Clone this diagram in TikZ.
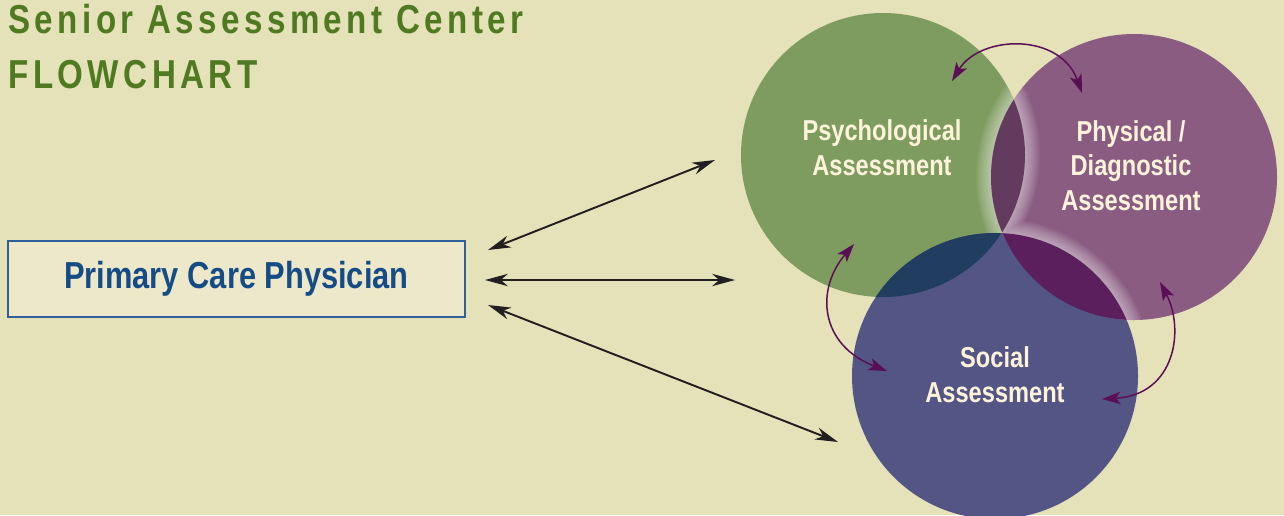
\documentclass[tikz,border=0pt]{standalone}
\usepackage{fontspec}
\setmainfont{Liberation Sans}[FakeStretch=0.82]
\newfontfamily\headfont{Liberation Sans}[FakeStretch=0.82, LetterSpace=11]
\usepackage{tikz}
\usetikzlibrary{arrows.meta}

\definecolor{bg}{HTML}{E5E1B8}
\definecolor{boxfill}{HTML}{EDE8CA}
\definecolor{boxblue}{HTML}{2C6096}
\definecolor{pcpblue}{HTML}{154C85}
\definecolor{headgreen}{HTML}{4F7A22}
\definecolor{psygreen}{HTML}{7E9C5F}
\definecolor{phypurple}{HTML}{8A5C82}
\definecolor{socblue}{HTML}{535684}
\definecolor{psyphy}{HTML}{623B5E}
\definecolor{psysoc}{HTML}{213D5F}
\definecolor{physoc}{HTML}{5C1F5E}
\definecolor{allthree}{HTML}{2E1F45}
\definecolor{cream}{HTML}{FDF3DB}
\definecolor{linkblack}{HTML}{231F20}
\definecolor{looppurple}{HTML}{5A0E55}

\begin{document}
\begin{tikzpicture}[x = 0.02cm, y = -0.02cm,
  headline/.style = {anchor = base west, inner sep = 0pt, text = headgreen, font = \headfont\bfseries\fontsize{23}{28}\selectfont},
  circlabel/.style = {text = cream, align = center, font = \bfseries\fontsize{16.4}{19.8}\selectfont},
  pcpbox/.style = {draw = boxblue, fill = boxfill, line width = 0.7pt, minimum width = 9.14cm, minimum height = 1.52cm, text = pcpblue, font = \bfseries\fontsize{21.4}{26}\selectfont},
  link/.style = {{Stealth[length=13pt,width=7pt,inset=4pt]}-{Stealth[length=13pt,width=7pt,inset=4pt]}, line width = 1.1pt, draw = linkblack},
  purplelink/.style = {{Stealth[length=10.5pt,width=7pt,inset=2.5pt]}-{Stealth[length=10.5pt,width=7pt,inset=2.5pt]}, line width = 0.85pt, draw = looppurple},
  glow/.style = {white, opacity = 0.055}]
\useasboundingbox (0,0) rectangle (1284,515);
\clip (0,0) rectangle (1284,515);
\fill[bg] (0,0) rectangle (1284,515);

\coordinate (psy) at (883,155);
\coordinate (phy) at (1134,177);
\coordinate (soc) at (995,376);

\fill[psygreen] (psy) circle (142);
\fill[phypurple] (phy) circle (143);
\fill[socblue] (soc) circle (143);

\begin{scope}
\clip (phy) circle (143);
\foreach \i in {1,...,10}
  \draw[glow, line width = \i*1.7pt] (psy) circle (142) (soc) circle (143);
\end{scope}
\begin{scope}
\clip (psy) circle (142);
\foreach \i in {1,...,10}
  \draw[glow, line width = \i*1.7pt] (phy) circle (143);
\end{scope}

\begin{scope}
\clip (psy) circle (142);
\fill[psyphy] (phy) circle (143);
\fill[psysoc] (soc) circle (143);
\end{scope}
\begin{scope}
\clip (phy) circle (143);
\fill[physoc] (soc) circle (143);
\clip (psy) circle (142);
\fill[allthree] (soc) circle (143);
\end{scope}

\node (title) [headline] at (8,33) {Senior Assessment Center};
\node (flow) [headline] at (8,88) {FLOWCHART};
\node (pcp) [pcpbox] at (236.5,279) {Primary Care Physician};

\node (psylabel) [circlabel] at (882,148) {Psychological\\Assessment};
\node (phylabel) [circlabel] at (1131,165.5) {Physical /\\Diagnostic\\Assessment};
\node (soclabel) [circlabel] at (995,375) {Social\\Assessment};

\coordinate (pcp-up) at (488,250);
\coordinate (pcp-mid) at (485,280);
\coordinate (pcp-down) at (488,305);
\coordinate (psy-in) at (715,160);
\coordinate (phy-in) at (735,280);
\coordinate (soc-in) at (838,442);
\draw[link] (pcp-up) -- (psy-in);
\draw[link] (pcp-mid) -- (phy-in);
\draw[link] (pcp-down) -- (soc-in);

\coordinate (psy-top) at (952,81);
\coordinate (phy-top) at (1082,93);
\coordinate (psy-low) at (854,244);
\coordinate (soc-left) at (887,371);
\coordinate (phy-low) at (1160,282);
\coordinate (soc-right) at (1102,399);
\draw[purplelink] (psy-top) .. controls (980,35) and (1060,32) .. (phy-top);
\draw[purplelink] (psy-low) .. controls (815,290) and (820,345) .. (soc-left);
\draw[purplelink] (phy-low) .. controls (1185,330) and (1175,395) .. (soc-right);
\end{tikzpicture}
\end{document}
